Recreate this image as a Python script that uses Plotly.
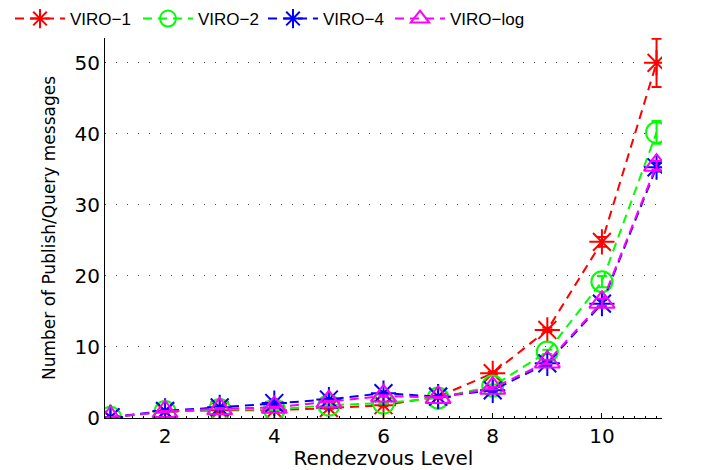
import plotly.graph_objects as go

# Rendezvous levels on the x axis
levels = [1, 2, 3, 4, 5, 6, 7, 8, 9, 10, 11]

# Mean number of publish/query messages per scheme
viro_1 = [0.1, 0.9, 1.1, 1.1, 1.4, 1.8, 3.0, 6.3, 12.4, 24.8, 50.0]
viro_2 = [0.1, 0.9, 1.2, 1.2, 1.8, 2.1, 2.8, 4.5, 9.3, 19.2, 40.2]
viro_4 = [0.1, 1.0, 1.5, 2.1, 2.6, 3.5, 3.0, 3.9, 7.7, 16.1, 35.3]
viro_log = [0.1, 0.9, 1.3, 1.5, 2.3, 3.1, 2.9, 4.2, 7.9, 16.3, 35.6]

# Error bar half-widths
err_1 = [0, 0.1, 0.1, 0.1, 0.1, 0.1, 0.1, 0.2, 0.3, 0.7, 3.4]
err_2 = [0, 0.1, 0.1, 0.1, 0.1, 0.1, 0.1, 0.2, 0.3, 0.8, 1.6]
err_4 = [0, 0.1, 0.1, 0.1, 0.1, 0.1, 0.1, 0.2, 0.3, 0.5, 0.6]
err_log = [0, 0.1, 0.1, 0.1, 0.1, 0.1, 0.1, 0.2, 0.3, 0.5, 0.6]

names = ["VIRO\u22121", "VIRO\u22122", "VIRO\u22124", "VIRO\u2212log"]
series = [viro_1, viro_2, viro_4, viro_log]
errors = [err_1, err_2, err_4, err_log]
colors = ["#ff0000", "#00ff00", "#0000ff", "#ff00ff"]
symbols = ["asterisk-open", "circle-open", "asterisk-open", "triangle-up-open"]
sizes = [21, 21, 21, 22]

# Each entry gets its own legend box so the row spacing can be set exactly
legend_ids = ["legend", "legend2", "legend3", "legend4"]
legend_left_px = [10, 138, 263, 390]

fig = go.Figure()
for name, ys, err, col, sym, sz, lid in zip(names, series, errors, colors,
                                            symbols, sizes, legend_ids):
    fig.add_trace(go.Scatter(
        x=levels, y=ys, name=name, mode="lines+markers", legend=lid,
        line=dict(color=col, width=2, dash="9px,6px"),
        marker=dict(symbol=sym, size=sz, color=col, line=dict(color=col, width=2)),
        error_y=dict(type="data", array=err, visible=True, color=col,
                     thickness=2, width=5),
    ))

margin_l, margin_r, margin_t, margin_b = 105, 58, 38, 52
plot_w = 720 - margin_l - margin_r
plot_h = 470 - margin_t - margin_b

legend_style = dict(orientation="h", xanchor="left", yanchor="top",
                    y=1 + 37 / plot_h,
                    font=dict(family="Liberation Sans, Arial, sans-serif", size=17,
                              color="black"),
                    bgcolor="rgba(0,0,0,0)", itemwidth=50)
legends = {lid: dict(legend_style, x=(px - margin_l) / plot_w)
           for lid, px in zip(legend_ids, legend_left_px)}

tick_font = dict(family="DejaVu Sans, sans-serif", size=20, color="black")

fig.update_layout(
    width=720, height=470,
    margin=dict(l=margin_l, r=margin_r, t=margin_t, b=margin_b, autoexpand=False),
    paper_bgcolor="white", plot_bgcolor="white",
    font=dict(family="Liberation Sans, Arial, sans-serif", size=17, color="black"),
    showlegend=True,
    **legends,
    xaxis=dict(
        range=[0.9, 11.1], tickvals=[2, 4, 6, 8, 10],
        showline=True, linecolor="black", linewidth=1,
        ticks="inside", ticklen=5, tickcolor="black",
        minor=dict(dtick=0.2, ticks="inside", ticklen=2, tickcolor="black"),
        showgrid=False, zeroline=False,
        title=dict(text="Rendezvous Level", standoff=2,
                   font=dict(family="DejaVu Sans, sans-serif", size=20, color="black")),
        tickfont=tick_font,
    ),
    yaxis=dict(
        range=[0, 53.5], tickvals=[0, 10, 20, 30, 40, 50],
        showline=True, linecolor="black", linewidth=1,
        ticks="", showgrid=True, gridcolor="#444444", gridwidth=1,
        griddash="1px,10px", zeroline=False,
        title=dict(text="Number of Publish/Query messages", standoff=14,
                   font=dict(family="DejaVu Sans, sans-serif", size=17, color="black")),
        tickfont=tick_font,
    ),
)

fig.write_html("out.html")
